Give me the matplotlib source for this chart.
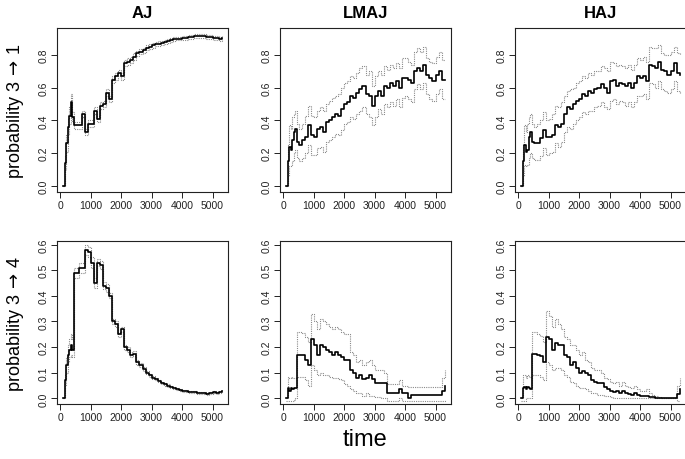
import matplotlib
matplotlib.use("Agg")
import matplotlib.pyplot as plt

plt.rcParams['font.family'] = ['Liberation Sans', 'DejaVu Sans']
plt.rcParams['mathtext.fontset'] = 'dejavusans'

time = [100, 150, 200, 250, 300, 350, 400, 450, 500, 600, 700, 800, 900, 1000,
        1100, 1200, 1300, 1400, 1500, 1600, 1700, 1800, 1900, 2000,
        2100, 2200, 2300, 2400, 2500, 2600, 2700, 2800, 2900, 3000,
        3100, 3200, 3300, 3400, 3500, 3600, 3700, 3800, 3900, 4000,
        4100, 4200, 4300, 4400, 4500, 4600, 4700, 4800, 4900, 5000,
        5100, 5200, 5300]

methods = ["AJ", "LMAJ", "HAJ"]
row_labels = [r"probability 3$\,\rightarrow\,$1", r"probability 3$\,\rightarrow\,$4"]

# ---- probability 3 -> 1 ----
aj31_est = [0.0, 0.14, 0.26, 0.36, 0.43, 0.51, 0.42, 0.37, 0.37, 0.37, 0.44, 0.33, 0.38, 0.38,
            0.46, 0.41, 0.49, 0.50, 0.57, 0.53, 0.65, 0.67, 0.69, 0.67,
            0.75, 0.76, 0.77, 0.79, 0.81, 0.82, 0.83, 0.845, 0.85, 0.86,
            0.865, 0.87, 0.875, 0.88, 0.885, 0.89, 0.895, 0.90, 0.90, 0.905,
            0.905, 0.91, 0.91, 0.915, 0.915, 0.915, 0.915, 0.91, 0.91, 0.905,
            0.905, 0.90, 0.905]
aj31_up = [0.0, 0.18, 0.31, 0.41, 0.48, 0.56, 0.45, 0.39, 0.39, 0.39, 0.46, 0.35, 0.40, 0.40,
           0.48, 0.43, 0.51, 0.52, 0.59, 0.55, 0.67, 0.69, 0.71, 0.69,
           0.77, 0.78, 0.79, 0.81, 0.825, 0.835, 0.845, 0.86, 0.865, 0.875,
           0.878, 0.883, 0.888, 0.892, 0.897, 0.902, 0.907, 0.911, 0.911, 0.916,
           0.916, 0.921, 0.921, 0.926, 0.926, 0.926, 0.926, 0.922, 0.922, 0.917,
           0.917, 0.913, 0.918]
aj31_lo = [0.0, 0.10, 0.21, 0.31, 0.38, 0.46, 0.39, 0.35, 0.35, 0.35, 0.42, 0.31, 0.36, 0.36,
           0.44, 0.39, 0.47, 0.48, 0.55, 0.51, 0.63, 0.65, 0.67, 0.65,
           0.73, 0.74, 0.75, 0.77, 0.795, 0.805, 0.815, 0.83, 0.835, 0.845,
           0.852, 0.857, 0.862, 0.868, 0.873, 0.878, 0.883, 0.889, 0.889, 0.894,
           0.894, 0.899, 0.899, 0.904, 0.904, 0.904, 0.904, 0.898, 0.898, 0.893,
           0.893, 0.887, 0.892]

lmaj31_est = [0.0, 0.15, 0.24, 0.22, 0.28, 0.33, 0.35, 0.27, 0.25, 0.28, 0.30, 0.37, 0.31, 0.30,
              0.35, 0.36, 0.33, 0.39, 0.40, 0.42, 0.44, 0.43, 0.47, 0.50,
              0.51, 0.55, 0.54, 0.57, 0.59, 0.61, 0.56, 0.55, 0.49, 0.55,
              0.58, 0.55, 0.61, 0.60, 0.63, 0.61, 0.64, 0.60, 0.66, 0.66,
              0.65, 0.63, 0.70, 0.72, 0.70, 0.74, 0.68, 0.66, 0.64, 0.68,
              0.70, 0.65, 0.65]
lmaj31_up = [0.0, 0.25, 0.37, 0.35, 0.42, 0.44, 0.46, 0.38, 0.35, 0.38, 0.43, 0.49, 0.43, 0.42,
             0.46, 0.48, 0.46, 0.50, 0.52, 0.54, 0.55, 0.56, 0.60, 0.63,
             0.64, 0.67, 0.66, 0.69, 0.72, 0.73, 0.68, 0.70, 0.61, 0.67,
             0.70, 0.68, 0.73, 0.71, 0.74, 0.72, 0.75, 0.72, 0.78, 0.78,
             0.76, 0.74, 0.82, 0.84, 0.82, 0.85, 0.78, 0.76, 0.75, 0.79,
             0.82, 0.77, 0.77]
lmaj31_lo = [0.0, 0.06, 0.12, 0.12, 0.15, 0.20, 0.22, 0.17, 0.15, 0.17, 0.20, 0.25, 0.19, 0.19,
             0.23, 0.24, 0.21, 0.27, 0.28, 0.30, 0.32, 0.31, 0.34, 0.38,
             0.39, 0.42, 0.41, 0.44, 0.46, 0.48, 0.44, 0.42, 0.37, 0.42,
             0.47, 0.44, 0.50, 0.48, 0.51, 0.49, 0.53, 0.48, 0.54, 0.55,
             0.53, 0.51, 0.59, 0.62, 0.59, 0.63, 0.56, 0.53, 0.52, 0.56,
             0.59, 0.53, 0.53]

haj31_est = [0.0, 0.15, 0.25, 0.21, 0.22, 0.30, 0.33, 0.27, 0.26, 0.26, 0.29, 0.34, 0.30, 0.30,
             0.31, 0.37, 0.36, 0.38, 0.44, 0.48, 0.47, 0.50, 0.52, 0.53,
             0.56, 0.55, 0.58, 0.57, 0.59, 0.60, 0.62, 0.60, 0.57, 0.64,
             0.65, 0.61, 0.63, 0.62, 0.61, 0.63, 0.60, 0.63, 0.67, 0.66,
             0.67, 0.64, 0.74, 0.73, 0.72, 0.76, 0.71, 0.70, 0.68, 0.70,
             0.75, 0.69, 0.68]
haj31_up = [0.0, 0.25, 0.37, 0.33, 0.38, 0.42, 0.44, 0.38, 0.36, 0.38, 0.40, 0.45, 0.40, 0.41,
            0.44, 0.49, 0.48, 0.51, 0.55, 0.58, 0.59, 0.60, 0.63, 0.64,
            0.67, 0.66, 0.69, 0.68, 0.70, 0.70, 0.73, 0.72, 0.70, 0.76,
            0.75, 0.73, 0.74, 0.73, 0.72, 0.74, 0.71, 0.74, 0.78, 0.77,
            0.79, 0.76, 0.85, 0.84, 0.84, 0.86, 0.81, 0.80, 0.80, 0.82,
            0.85, 0.81, 0.80]
haj31_lo = [0.0, 0.06, 0.13, 0.12, 0.13, 0.17, 0.20, 0.17, 0.16, 0.16, 0.18, 0.23, 0.19, 0.20,
            0.21, 0.26, 0.24, 0.27, 0.33, 0.36, 0.35, 0.38, 0.40, 0.42,
            0.45, 0.44, 0.46, 0.46, 0.48, 0.49, 0.51, 0.48, 0.47, 0.52,
            0.53, 0.50, 0.52, 0.51, 0.49, 0.51, 0.48, 0.51, 0.55, 0.55,
            0.56, 0.53, 0.63, 0.62, 0.60, 0.64, 0.59, 0.58, 0.57, 0.59,
            0.64, 0.58, 0.56]

# ---- probability 3 -> 4 ----
aj34_est = [0.0, 0.07, 0.13, 0.17, 0.19, 0.21, 0.19, 0.49, 0.49, 0.51, 0.51, 0.58, 0.57, 0.53,
            0.45, 0.53, 0.52, 0.44, 0.43, 0.40, 0.30, 0.29, 0.25, 0.27,
            0.20, 0.19, 0.17, 0.175, 0.14, 0.13, 0.115, 0.10, 0.09, 0.08,
            0.075, 0.068, 0.06, 0.055, 0.05, 0.045, 0.04, 0.037, 0.033, 0.03,
            0.028, 0.026, 0.025, 0.024, 0.022, 0.021, 0.02, 0.018, 0.022, 0.025,
            0.022, 0.025, 0.03]
aj34_up = [0.0, 0.09, 0.16, 0.21, 0.23, 0.25, 0.23, 0.51, 0.51, 0.53, 0.53, 0.60, 0.59, 0.55,
           0.47, 0.545, 0.535, 0.455, 0.445, 0.41, 0.31, 0.30, 0.26, 0.28,
           0.21, 0.20, 0.18, 0.184, 0.148, 0.137, 0.122, 0.106, 0.096, 0.086,
           0.08, 0.073, 0.065, 0.06, 0.055, 0.05, 0.045, 0.041, 0.037, 0.034,
           0.032, 0.03, 0.029, 0.028, 0.026, 0.025, 0.024, 0.022, 0.026, 0.029,
           0.026, 0.029, 0.034]
aj34_lo = [0.0, 0.05, 0.10, 0.14, 0.16, 0.17, 0.16, 0.47, 0.47, 0.49, 0.49, 0.56, 0.55, 0.51,
           0.43, 0.515, 0.505, 0.425, 0.415, 0.39, 0.29, 0.28, 0.24, 0.26,
           0.19, 0.18, 0.16, 0.166, 0.132, 0.123, 0.108, 0.094, 0.084, 0.074,
           0.07, 0.063, 0.055, 0.05, 0.045, 0.04, 0.035, 0.033, 0.029, 0.026,
           0.024, 0.022, 0.021, 0.02, 0.018, 0.017, 0.016, 0.014, 0.018, 0.021,
           0.018, 0.021, 0.026]

lmaj34_est = [0.0, 0.04, 0.03, 0.04, 0.035, 0.04, 0.04, 0.17, 0.17, 0.17, 0.15, 0.13, 0.23, 0.21,
              0.17, 0.21, 0.20, 0.19, 0.18, 0.17, 0.18, 0.17, 0.16, 0.15,
              0.15, 0.11, 0.10, 0.08, 0.09, 0.075, 0.08, 0.09, 0.075, 0.06,
              0.06, 0.06, 0.06, 0.02, 0.02, 0.02, 0.02, 0.035, 0.02, 0.02,
              0.0, 0.015, 0.015, 0.015, 0.015, 0.015, 0.015, 0.015, 0.015, 0.015,
              0.015, 0.03, 0.05]
lmaj34_up = [0.0, 0.085, 0.08, 0.085, 0.08, 0.08, 0.08, 0.26, 0.26, 0.255, 0.24, 0.22, 0.33, 0.30,
             0.27, 0.31, 0.30, 0.29, 0.28, 0.27, 0.28, 0.27, 0.26, 0.25,
             0.25, 0.18, 0.17, 0.14, 0.15, 0.13, 0.14, 0.15, 0.13, 0.11,
             0.11, 0.11, 0.10, 0.055, 0.055, 0.055, 0.055, 0.07, 0.05, 0.05,
             0.045, 0.045, 0.045, 0.045, 0.045, 0.045, 0.045, 0.045, 0.045, 0.045,
             0.045, 0.08, 0.11]
lmaj34_lo = [-0.01, -0.01, -0.01, -0.01, -0.01, -0.005, 0.0, 0.085, 0.085, 0.085, 0.07, 0.05, 0.13, 0.11,
             0.09, 0.10, 0.09, 0.09, 0.085, 0.08, 0.08, 0.075, 0.07, 0.055,
             0.05, 0.035, 0.03, 0.02, 0.02, 0.01, 0.02, 0.01, 0.01, 0.005,
             0.005, 0.0, 0.0, -0.01, -0.01, -0.01, -0.01, 0.0, -0.01, -0.01,
             -0.01, -0.01, -0.01, -0.01, -0.01, -0.01, -0.01, -0.01, -0.01, -0.01,
             -0.01, -0.01, -0.005]

haj34_est = [0.0, 0.04, 0.045, 0.035, 0.045, 0.04, 0.035, 0.175, 0.175, 0.17, 0.165, 0.14, 0.24, 0.23,
             0.19, 0.215, 0.21, 0.21, 0.17, 0.16, 0.13, 0.14, 0.12, 0.10,
             0.105, 0.10, 0.09, 0.07, 0.065, 0.06, 0.06, 0.045, 0.035, 0.03,
             0.025, 0.03, 0.022, 0.03, 0.02, 0.018, 0.015, 0.02, 0.013, 0.01,
             0.008, 0.01, 0.006, 0.004, 0.002, 0.001, 0.0, 0.0, 0.0, 0.0,
             0.0, 0.018, 0.035]
haj34_up = [0.0, 0.09, 0.09, 0.08, 0.09, 0.085, 0.085, 0.26, 0.26, 0.25, 0.245, 0.22, 0.34, 0.32,
            0.28, 0.31, 0.29, 0.27, 0.24, 0.23, 0.21, 0.21, 0.19, 0.17,
            0.18, 0.15, 0.14, 0.12, 0.11, 0.11, 0.10, 0.08, 0.075, 0.065,
            0.06, 0.065, 0.05, 0.065, 0.05, 0.045, 0.04, 0.05, 0.035, 0.03,
            0.03, 0.035, 0.02, 0.015, 0.01, 0.005, 0.0, 0.0, 0.0, 0.0,
            0.0, 0.05, 0.08]
haj34_lo = [-0.01, -0.01, -0.01, 0.0, 0.0, 0.0, 0.0, 0.09, 0.09, 0.09, 0.085, 0.07, 0.14, 0.13,
            0.11, 0.12, 0.12, 0.11, 0.09, 0.085, 0.065, 0.06, 0.05, 0.04,
            0.04, 0.035, 0.03, 0.02, 0.02, 0.015, 0.012, 0.01, 0.008, 0.005,
            0.003, 0.003, 0.002, 0.002, 0.001, 0.001, 0.0, 0.001, 0.0, 0.0,
            0.0, 0.0, 0.0, 0.0, 0.0, 0.0, 0.0, 0.0, 0.0, 0.0,
            0.0, -0.01, -0.01]

panels = [
    [(aj31_est, aj31_lo, aj31_up), (lmaj31_est, lmaj31_lo, lmaj31_up), (haj31_est, haj31_lo, haj31_up)],
    [(aj34_est, aj34_lo, aj34_up), (lmaj34_est, lmaj34_lo, lmaj34_up), (haj34_est, haj34_lo, haj34_up)],
]
yticks_rows = [[0.0, 0.2, 0.4, 0.6, 0.8], [0.0, 0.1, 0.2, 0.3, 0.4, 0.5, 0.6]]
ylims = [(-0.037, 0.965), (-0.022, 0.614)]
xticks = [0, 1000, 2000, 3000, 4000, 5000]

fig = plt.figure(figsize=(6.85, 4.6), dpi=100)
lefts = [57 / 685, 280 / 685, 515 / 685]
bottoms = [1 - 193 / 460, 1 - 405 / 460]
heights = [164 / 460, 163 / 460]
width = 171 / 685

for r in range(2):
    for c in range(3):
        ax = fig.add_axes([lefts[c], bottoms[r], width, heights[r]])
        est, lo, up = panels[r][c]
        ax.step(time, up, where='post', color='#8a8a8a', lw=0.8, linestyle=(0, (1, 1)))
        ax.step(time, lo, where='post', color='#8a8a8a', lw=0.8, linestyle=(0, (1, 1)))
        ax.step(time, est, where='post', color='black', lw=1.2)
        ax.set_xlim(-108, 5508)
        ax.set_ylim(*ylims[r])
        ax.set_xticks(xticks)
        ax.set_xticklabels([str(v) for v in xticks])
        ax.set_yticks(yticks_rows[r])
        ax.set_yticklabels([f"{v:.1f}" for v in yticks_rows[r]])
        ax.tick_params(axis='both', direction='out', length=4, width=0.7,
                       labelsize=7.5, colors='#222222', pad=2)
        for lab in ax.get_yticklabels():
            lab.set_rotation(90)
            lab.set_va('center')
        for sp in ax.spines.values():
            sp.set_linewidth(0.8)
            sp.set_color('#222222')
        if r == 0:
            ax.set_title(methods[c], fontsize=12, fontweight='bold', pad=8)
        if c == 0:
            ax.set_ylabel(row_labels[r], fontsize=13, labelpad=9)

fig.text(365 / 685, 1 - 440 / 460, "time", fontsize=17, ha='center', va='center')

fig.savefig("out.png", dpi=100)
